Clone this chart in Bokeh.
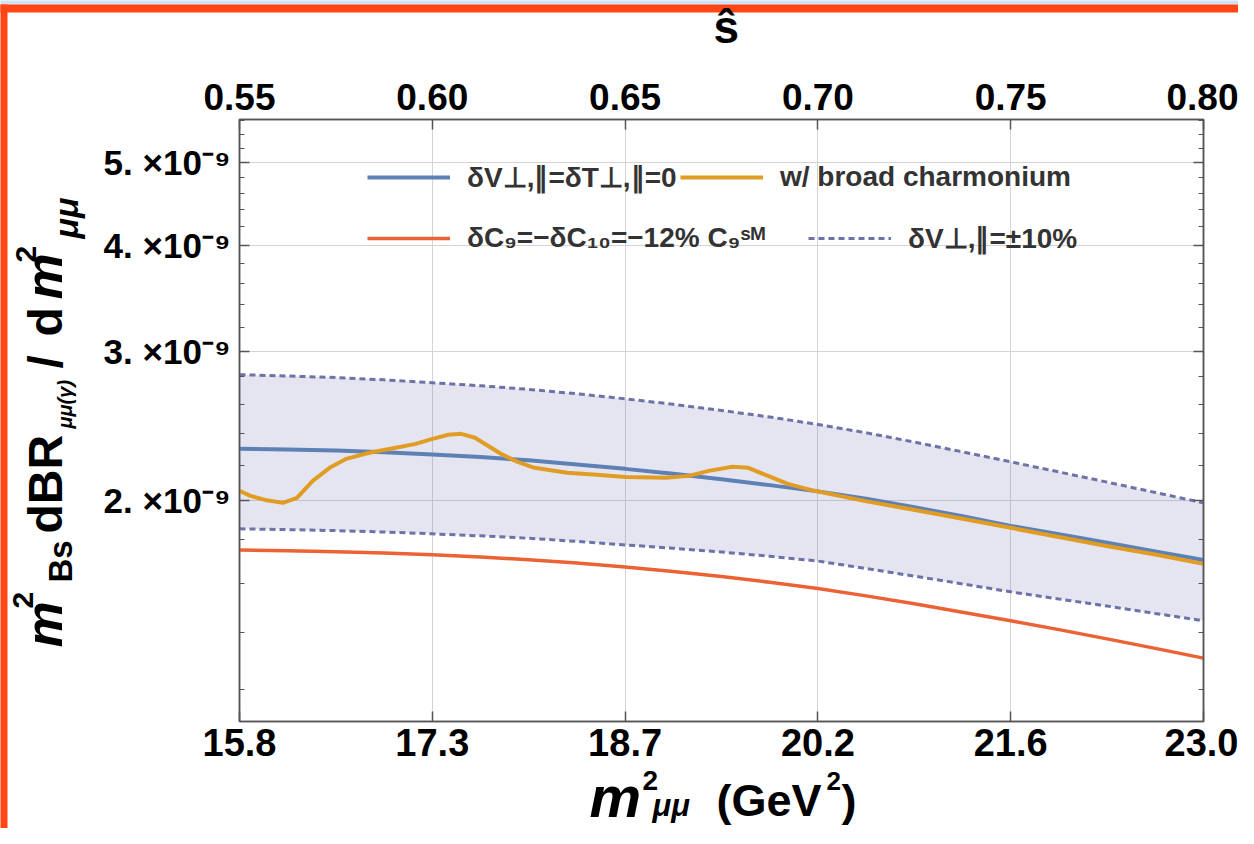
import numpy as np
from bokeh.plotting import figure
from bokeh.models import (Range1d, LinearAxis, LogAxis, FixedTicker, ColumnDataSource,
                          CustomJSTickFormatter, Legend, LegendItem)
from bokeh.core.properties import value
from bokeh.embed import file_html
from bokeh.resources import INLINE

# ---------------- data ----------------
M2_BS = 28.8          # m_Bs^2 in GeV^2 (s_hat = q2 / m_Bs^2)
UNIT = 1e-9

SHAT_TICKS = [0.55, 0.60, 0.65, 0.70, 0.75, 0.80]
SHAT_TICK_LABELS = ["0.55", "0.60", "0.65", "0.70", "0.75", "0.80"]
Q2_TICK_LABELS = ["15.8", "17.3", "18.7", "20.2", "21.6", "23.0"]
Y_TICKS = [2e-9, 3e-9, 4e-9, 5e-9]
Y_TICK_LABELS = ["2. ×10⁻⁹", "3. ×10⁻⁹", "4. ×10⁻⁹", "5. ×10⁻⁹"]
Y_MINOR = [1.2e-9, 1.4e-9, 1.6e-9, 1.8e-9, 2.2e-9, 2.4e-9, 2.6e-9, 2.8e-9,
           3.2e-9, 3.4e-9, 3.6e-9, 3.8e-9, 4.2e-9, 4.4e-9, 4.6e-9, 4.8e-9,
           5.2e-9, 5.4e-9, 5.6e-9]

q2_grid = [15.84, 16.20, 16.56, 16.92, 17.28, 17.64, 18.00, 18.36, 18.72, 19.08,
           19.44, 19.80, 20.16, 20.52, 20.88, 21.24, 21.60, 21.96, 22.32, 22.68, 23.04]
br_sm = [2.303, 2.299, 2.292, 2.282, 2.268, 2.252, 2.232, 2.207, 2.181, 2.152,
         2.120, 2.087, 2.052, 2.012, 1.966, 1.918, 1.869, 1.827, 1.785, 1.744, 1.704]
br_upper = [2.815, 2.805, 2.793, 2.776, 2.754, 2.732, 2.705, 2.673, 2.637, 2.598,
            2.555, 2.510, 2.460, 2.405, 2.345, 2.284, 2.223, 2.163, 2.104, 2.046, 1.989]
br_lower = [1.854, 1.850, 1.845, 1.838, 1.829, 1.819, 1.807, 1.792, 1.775, 1.759,
            1.741, 1.721, 1.699, 1.665, 1.631, 1.597, 1.563, 1.533, 1.504, 1.474, 1.445]
br_c9 = [1.751, 1.747, 1.742, 1.736, 1.728, 1.718, 1.705, 1.690, 1.672, 1.652,
         1.629, 1.604, 1.577, 1.546, 1.513, 1.479, 1.445, 1.411, 1.376, 1.341, 1.306]

q2_charm = [15.840, 15.921, 16.032, 16.165, 16.269, 16.387, 16.513, 16.638, 16.808,
            17.008, 17.156, 17.281, 17.400, 17.496, 17.599, 17.695, 17.792, 17.917,
            18.043, 18.287, 18.509, 18.723, 19.026, 19.196, 19.344, 19.521, 19.640,
            19.787, 19.935, 20.135, 20.504, 20.874, 21.240, 21.599, 21.960, 22.316,
            22.680, 23.040]
br_charm = [2.055, 2.027, 2.005, 1.989, 2.016, 2.111, 2.187, 2.241, 2.278,
            2.309, 2.334, 2.366, 2.392, 2.398, 2.373, 2.322, 2.272, 2.223,
            2.187, 2.158, 2.146, 2.134, 2.129, 2.140, 2.169, 2.193, 2.187,
            2.140, 2.094, 2.055, 2.000, 1.952, 1.905, 1.859, 1.813, 1.770,
            1.729, 1.686]

LBL_SM = "δV⊥,∥=δT⊥,∥=0"
LBL_CHARM = "w/ broad charmonium"
LBL_C9 = "δC₉=−δC₁₀=−12% C₉ˢᴹ"
LBL_DV = "δV⊥,∥=±10%"

# ---------------- figure ----------------
W, H = 1238, 828
FL, FR, FT, FB = 239, 1203, 119, 721   # frame edges in canvas pixels
X0, X1 = SHAT_TICKS[0] * M2_BS, SHAT_TICKS[-1] * M2_BS
Y0, Y1 = 1.1e-9, 5.62e-9
FONT = "Liberation Sans"

p = figure(width=W, height=H, x_range=Range1d(X0, X1), y_range=Range1d(Y0, Y1),
           y_axis_type="log", output_backend="svg", toolbar_location=None,
           min_border_left=FL, min_border_right=W - FR, min_border_top=FT,
           min_border_bottom=H - FB)
p.background_fill_color = "white"
p.border_fill_color = "white"
p.outline_line_color = "#555555"
p.outline_line_width = 1.5

q2_ticks = [s * M2_BS for s in SHAT_TICKS]

pick = ("let b = 0; for (let i = 0; i < tv.length; i++) {"
        " if (Math.abs(tv[i] - tick) < Math.abs(tv[b] - tick)) b = i; }"
        " return tl[b];")


def style_axis(ax, size):
    ax.axis_line_color = "#555555"
    ax.axis_line_width = 1.5
    ax.major_tick_line_color = "#555555"
    ax.major_tick_line_width = 1.5
    ax.minor_tick_line_color = "#555555"
    ax.minor_tick_line_width = 1.2
    ax.major_tick_in = 10
    ax.major_tick_out = 0
    ax.minor_tick_in = 5
    ax.minor_tick_out = 0
    ax.major_label_text_font = FONT
    ax.major_label_text_font_style = "bold"
    ax.major_label_text_font_size = size
    ax.major_label_text_color = "black"


xb = p.xaxis[0]
xb.ticker = FixedTicker(ticks=q2_ticks, minor_ticks=[])
xb.formatter = CustomJSTickFormatter(args=dict(tv=q2_ticks, tl=Q2_TICK_LABELS), code=pick)
style_axis(xb, "38px")
xb.major_label_standoff = 7

yl = p.yaxis[0]
yl.ticker = FixedTicker(ticks=Y_TICKS, minor_ticks=Y_MINOR)
yl.formatter = CustomJSTickFormatter(args=dict(tv=Y_TICKS, tl=Y_TICK_LABELS), code=pick)
style_axis(yl, "35px")
yl.major_label_standoff = 9

p.extra_x_ranges = {"shat": Range1d(SHAT_TICKS[0], SHAT_TICKS[-1])}
xt = LinearAxis(x_range_name="shat", ticker=FixedTicker(ticks=SHAT_TICKS, minor_ticks=[]),
                formatter=CustomJSTickFormatter(args=dict(tv=SHAT_TICKS, tl=SHAT_TICK_LABELS), code=pick))
style_axis(xt, "37px")
xt.major_label_standoff = 10
p.add_layout(xt, "above")

yr = LogAxis(ticker=FixedTicker(ticks=Y_TICKS, minor_ticks=Y_MINOR),
             formatter=CustomJSTickFormatter(code="return '';"))
style_axis(yr, "1px")
p.add_layout(yr, "right")

p.xgrid.ticker = FixedTicker(ticks=q2_ticks[1:-1], minor_ticks=[])
p.ygrid.ticker = FixedTicker(ticks=Y_TICKS, minor_ticks=[])
p.grid.grid_line_color = "#d4d4d4"
p.grid.grid_line_width = 1

sm = [v * UNIT for v in br_sm]
up = [v * UNIT for v in br_upper]
lo = [v * UNIT for v in br_lower]
c9 = [v * UNIT for v in br_c9]
ch = [v * UNIT for v in br_charm]

p.varea(x=q2_grid, y1=lo, y2=up, fill_color="#6a70b0", fill_alpha=0.18)
r_up = p.line(q2_grid, up, line_color="#6f72a6", line_width=3, line_dash="6 4")
p.line(q2_grid, lo, line_color="#6f72a6", line_width=3, line_dash="6 4")
r_c9 = p.line(q2_grid, c9, line_color="#EB6235", line_width=3.5)
r_sm = p.line(q2_grid, sm, line_color="#5E81B5", line_width=4)
r_ch = p.line(q2_charm, ch, line_color="#E19C24", line_width=4, line_join="round")

# ---------------- legends (one per entry, per-row layout) ----------------
ITEM_H = 34


def add_legend(label, rend, px, cy):
    leg = Legend(items=[LegendItem(label=value(label), renderers=[rend])],
                 location=(px - FL, FB - (cy + ITEM_H / 2)), orientation="horizontal",
                 glyph_width=83, glyph_height=ITEM_H, label_height=ITEM_H,
                 label_standoff=17, spacing=0, padding=0, margin=0,
                 border_line_color=None, background_fill_alpha=0,
                 label_text_font=FONT, label_text_font_style="bold",
                 label_text_font_size="28px", label_text_color="#333333")
    p.add_layout(leg)


add_legend(LBL_SM, r_sm, 367, 177)
add_legend(LBL_CHARM, r_ch, 680, 177)
add_legend(LBL_C9, r_c9, 367, 238)
add_legend(LBL_DV, r_up, 808, 238)

# ---------------- pixel -> data helpers for decorations outside the frame ----------------


def xd(px):
    return X0 + (px - FL) * (X1 - X0) / (FR - FL)


def yd(py):
    l0, l1 = np.log10(Y0), np.log10(Y1)
    return float(10 ** (l0 + (FB - py) * (l1 - l0) / (FB - FT)))


# screenshot frame of the original picture (orange border, light-blue strip)
border = ColumnDataSource(dict(
    left=[xd(0), xd(0), xd(0)], right=[xd(W), xd(W), xd(7)],
    top=[yd(0), yd(4), yd(4)], bottom=[yd(4), yd(12), yd(H)],
    color=["#cfe2f3", "#ff4614", "#ff4614"]))
p.quad(left="left", right="right", top="top", bottom="bottom", source=border,
       fill_color="color", line_color=None, level="overlay")

# ---------------- axis titles as positioned text ----------------
MID = 0.35   # distance (in em) from the alphabetic baseline up to the text's middle
R = float(np.pi / 2)
pieces = [
    # y-axis title: m^2_Bs dBR_{mu mu (gamma)} / dm^2_{mu mu}   (baseline x, start y)
    ("m", 62, 647, 52, "bold italic", R),
    ("2", 33, 608, 30, "bold", R),
    ("Bs", 72, 582, 33, "bold", R),
    ("dBR", 62, 533, 48, "bold", R),
    ("μμ(γ)", 71, 428, 20, "bold italic", R),
    ("/", 62, 368, 48, "bold", R),
    ("d", 62, 336, 48, "bold", R),
    ("m", 62, 299, 52, "bold italic", R),
    ("2", 36, 262, 30, "bold", R),
    ("μμ", 77, 238, 34, "bold italic", R),
    # x-axis title: m^2_{mu mu} (GeV^2)   (start x, baseline y)
    ("m", 589, 816, 58, "bold italic", 0.0),
    ("2", 642, 790, 28, "bold", 0.0),
    ("μμ", 652, 816, 31, "bold italic", 0.0),
    ("(GeV", 716, 816, 45, "bold", 0.0),
    ("2", 826, 790, 26, "bold", 0.0),
    (")", 841, 816, 45, "bold", 0.0),
    # top axis title
    ("ŝ", 713, 43, 46, "bold", 0.0),
]
xs, ys = [], []
for t, px, py, fs, st, ang in pieces:
    if ang == 0.0:
        py = py - MID * fs
    else:
        px = px - MID * fs
    xs.append(xd(px))
    ys.append(yd(py))

src = ColumnDataSource(dict(
    x=xs, y=ys, text=[t[0] for t in pieces], size=["%dpx" % t[3] for t in pieces],
    style=[t[4] for t in pieces], angle=[t[5] for t in pieces]))
p.text(x="x", y="y", text="text", source=src, text_font=value(FONT),
       text_font_size="size", text_font_style="style", angle="angle",
       text_align="left", text_baseline="middle", text_color="black",
       level="overlay")

open("out.html", "w").write(file_html(p, INLINE))
